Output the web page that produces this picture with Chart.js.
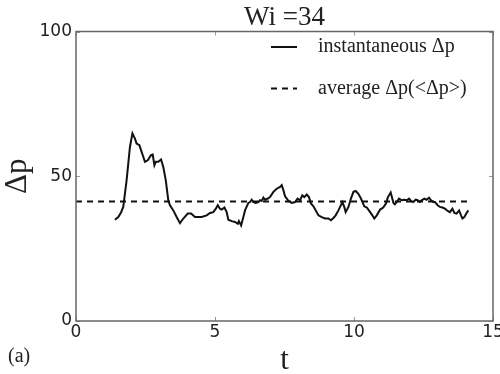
<!DOCTYPE html>
<html>
<head>
<meta charset="utf-8">
<script src="https://cdn.jsdelivr.net/npm/chart.js@4.4.1/dist/chart.umd.min.js"></script>
<style>
  html, body { margin: 0; padding: 0; background: #fff; overflow: hidden; }
  #wrap { width: 500px; height: 374px; }
</style>
</head>
<body>
<div id="wrap"><canvas id="chart" width="500" height="374"></canvas></div>
<script>
// instantaneous pressure drop
const times = [
  1.40, 1.52, 1.62, 1.70, 1.82, 1.94, 2.03, 2.12, 2.18, 2.28,
  2.36, 2.48, 2.58, 2.70, 2.76, 2.82, 2.87, 2.96, 3.06, 3.14,
  3.23, 3.32, 3.38, 3.50, 3.62, 3.74, 3.86, 4.02, 4.14, 4.28,
  4.52, 4.70, 4.82, 4.94, 5.03, 5.10, 5.18, 5.24, 5.34, 5.42,
  5.48, 5.60, 5.72, 5.82, 5.86, 5.94, 6.02, 6.08, 6.20, 6.26,
  6.32, 6.38, 6.46, 6.56, 6.62, 6.68, 6.74, 6.80, 6.90, 6.98,
  7.10, 7.22, 7.34, 7.40, 7.46, 7.52, 7.64, 7.76, 7.88, 7.97,
  8.06, 8.14, 8.21, 8.30, 8.38, 8.45, 8.54, 8.66, 8.72, 8.84,
  8.96, 9.08, 9.17, 9.26, 9.34, 9.44, 9.53, 9.58, 9.65, 9.70,
  9.80, 9.89, 9.98, 10.06, 10.15, 10.25, 10.37, 10.46, 10.58, 10.66,
  10.73, 10.82, 10.94, 11.05, 11.15, 11.22, 11.32, 11.42, 11.47, 11.54,
  11.62, 11.72, 11.81, 11.90, 11.98, 12.05, 12.13, 12.22, 12.29, 12.37,
  12.43, 12.53, 12.61, 12.70, 12.77, 12.85, 12.91, 13.01, 13.09, 13.18,
  13.27, 13.37, 13.45, 13.54, 13.61, 13.69, 13.78, 13.85, 13.90, 13.97,
  14.05, 14.11
];
const deltaP = [
  35.0, 35.9, 37.5, 39.4, 48.6, 60.1, 64.8, 63.0, 61.3, 60.7,
  58.4, 55.0, 55.5, 57.3, 57.5, 53.8, 55.0, 55.0, 55.8, 53.2,
  48.6, 41.7, 40.0, 38.2, 35.9, 33.8, 35.4, 37.1, 37.1, 35.9,
  35.9, 36.5, 37.3, 37.6, 38.8, 40.0, 38.8, 38.5, 39.2, 37.6,
  35.0, 34.5, 34.2, 33.6, 34.5, 33.0, 35.9, 38.2, 40.8, 41.1,
  41.9, 41.1, 40.8, 41.1, 41.7, 41.5, 42.6, 41.9, 42.3, 42.8,
  44.6, 45.7, 46.3, 46.9, 45.2, 43.1, 41.5, 40.8, 41.1, 42.3,
  41.7, 43.4, 42.8, 43.7, 42.8, 40.6, 39.6, 37.6, 36.5, 35.9,
  35.4, 35.4, 34.8, 35.6, 36.5, 38.2, 40.0, 41.1, 39.4, 37.6,
  39.4, 42.3, 44.6, 44.9, 44.0, 42.3, 39.6, 39.2, 37.6, 36.5,
  35.4, 36.5, 38.5, 39.2, 40.6, 42.8, 44.4, 40.8, 40.3, 41.1,
  42.3, 41.7, 41.9, 41.7, 42.3, 41.5, 41.1, 41.9, 41.7, 41.1,
  41.7, 42.3, 41.9, 42.6, 41.7, 41.1, 41.1, 40.0, 39.4, 39.2,
  38.8, 38.0, 37.6, 38.8, 37.3, 37.1, 38.2, 36.5, 35.4, 35.9,
  37.3, 38.2
];

// time-averaged value and the time span it is drawn over
const averageValue = 41.3;
const averageSpan = [0, 14.1];

const xTicks = [0, 5, 10, 15];
const yTicks = [0, 50, 100];

const seriesLabels = ["instantaneous \u0394p", "average \u0394p(<\u0394p>)"];
const titleText = "Wi =34";
const xLabel = "t";
const yLabel = "\u0394p";
const panelLabel = "(a)";

const serif = "'Liberation Serif', 'DejaVu Serif', serif";
const sans = "'DejaVu Sans', sans-serif";

// frame, inward tick marks and the panel tag
const framePlugin = {
    id: "frame",
    afterDraw(chart) {
        const { ctx, chartArea: a } = chart;
        const x = chart.scales.x;
        const y = chart.scales.y;
        ctx.save();
        ctx.strokeStyle = "#9a9a9a";
        ctx.lineWidth = 1;
        ctx.beginPath();
        xTicks.forEach(v => {
            const px = Math.round(x.getPixelForValue(v)) + 0.5;
            ctx.moveTo(px, a.bottom); ctx.lineTo(px, a.bottom - 4);
            ctx.moveTo(px, a.top); ctx.lineTo(px, a.top + 4);
        });
        yTicks.forEach(v => {
            const py = Math.round(y.getPixelForValue(v)) + 0.5;
            ctx.moveTo(a.left, py); ctx.lineTo(a.left + 4, py);
            ctx.moveTo(a.right, py); ctx.lineTo(a.right - 4, py);
        });
        ctx.stroke();

        ctx.strokeStyle = "#666";
        ctx.lineWidth = 1.5;
        ctx.strokeRect(a.left, a.top, a.right - a.left, a.bottom - a.top);

        ctx.fillStyle = "#222";
        ctx.font = "20px " + serif;
        ctx.textBaseline = "middle";
        ctx.textAlign = "left";
        ctx.fillText(panelLabel, 8, 357);
        ctx.restore();
    }
};

// legend drawn inside the top-right corner of the plot
const legendPlugin = {
    id: "innerLegend",
    afterDraw(chart) {
        const { ctx, chartArea: a } = chart;
        ctx.save();
        ctx.font = "20px " + serif;
        ctx.textBaseline = "middle";
        ctx.textAlign = "left";
        chart.data.datasets.forEach((ds, i) => {
            const x0 = a.right - 222;
            const yy = a.top + 15.5 + i * 41.5;
            ctx.strokeStyle = ds.borderColor;
            ctx.lineWidth = ds.borderWidth;
            ctx.setLineDash(ds.borderDash || []);
            ctx.beginPath();
            ctx.moveTo(x0, yy);
            ctx.lineTo(x0 + 26, yy);
            ctx.stroke();
            ctx.setLineDash([]);
            ctx.fillStyle = "#222";
            ctx.fillText(ds.label, x0 + 47, yy);
        });
        ctx.restore();
    }
};

const instantPoints = times.map((t, i) => ({ x: t, y: deltaP[i] }));
const averagePoints = averageSpan.map(t => ({ x: t, y: averageValue }));

new Chart(document.getElementById("chart"), {
    type: "line",
    data: {
        datasets: [{
            label: seriesLabels[0],
            data: instantPoints,
            borderColor: "#111",
            borderWidth: 2,
            pointRadius: 0,
            tension: 0,
            fill: false
        }, {
            label: seriesLabels[1],
            data: averagePoints,
            borderColor: "#111",
            borderWidth: 2,
            borderDash: [6, 5],
            pointRadius: 0,
            fill: false
        }]
    },
    options: {
        responsive: false,
        animation: false,
        layout: { padding: { left: 0, right: 7, top: 0, bottom: 0 } },
        plugins: {
            legend: { display: false },
            tooltip: { enabled: false }
        },
        scales: {
            x: {
                type: "linear",
                position: "bottom",
                min: 0, max: 15,
                grid: { display: false, drawTicks: false },
                border: { display: false },
                ticks: { color: "#222", font: { family: sans, size: 17 }, padding: 1, maxRotation: 0 },
                title: {
                    display: true, text: xLabel, color: "#222",
                    font: { family: serif, size: 31, lineHeight: 1 },
                    padding: { top: 0, bottom: -2.5 }
                },
                afterBuildTicks: s => { s.ticks = xTicks.map(v => ({ value: v })); },
                afterFit: s => { s.height = 53; s.paddingRight = 0; }
            },
            top: {
                type: "linear",
                position: "top",
                min: 0, max: 15,
                grid: { display: false, drawTicks: false },
                border: { display: false },
                ticks: { display: false },
                title: {
                    display: true, text: titleText, color: "#222",
                    font: { family: serif, size: 27, lineHeight: 1 },
                    padding: { top: 4.7, bottom: 0 }
                },
                afterFit: s => { s.height = 31.5; s.paddingLeft = 0; s.paddingRight = 0; }
            },
            y: {
                type: "linear",
                position: "left",
                min: 0, max: 100,
                grid: { display: false, drawTicks: false },
                border: { display: false },
                ticks: { color: "#222", font: { family: sans, size: 17 }, padding: 4 },
                title: {
                    display: true, text: yLabel, color: "#222",
                    font: { family: serif, size: 31, lineHeight: 1 },
                    padding: { top: 2, bottom: 0 }
                },
                afterBuildTicks: s => { s.ticks = yTicks.map(v => ({ value: v })); },
                afterFit: s => { s.width = 76; }
            }
        }
    },
    plugins: [framePlugin, legendPlugin]
});
</script>
</body>
</html>
